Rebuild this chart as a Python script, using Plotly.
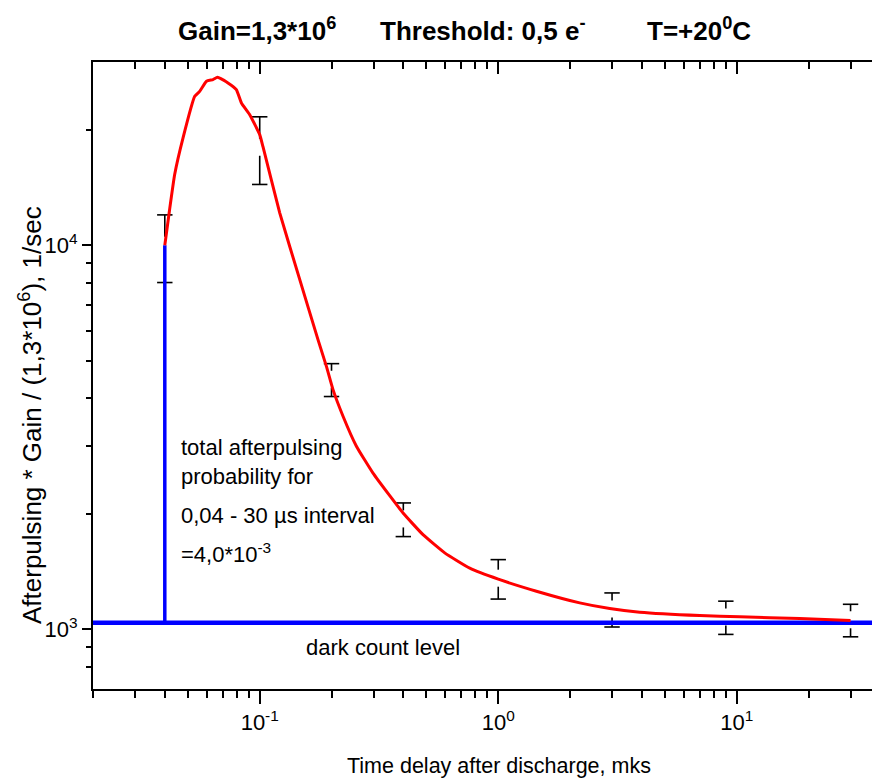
import math
import plotly.graph_objects as go

# ---------------- data ----------------
curve_x = [0.040, 0.0419, 0.0440, 0.0477, 0.0534, 0.0560, 0.0598, 0.0637, 0.0665, 0.0736,
           0.0798, 0.0838, 0.0908, 0.100, 0.1032, 0.1213, 0.1472, 0.1755, 0.1904, 0.2029,
           0.2235, 0.2543, 0.2985, 0.3508, 0.399, 0.4837, 0.5965, 0.7595, 1.0, 1.446,
           2.196, 2.934, 3.92, 7.0, 10.3, 18.35, 30.0]
curve_y = [10000, 12390, 15280, 19040, 24420, 25160, 26730, 27000, 27370, 26460,
           25420, 23470, 21880, 19410, 18060, 12150, 8140, 5680, 4840, 4210,
           3590, 3000, 2553, 2230, 2010, 1765, 1583, 1444, 1352, 1258,
           1173, 1134, 1109, 1087, 1079, 1068, 1055]

eb_x = [0.04, 0.1, 0.2, 0.4, 1.0, 3.0, 9.0, 30.0]
eb_y = [10000, 18000, 4480, 1940, 1360, 1130, 1078, 1060]
eb_err = [2000, 3600, 440, 195, 160, 115, 107, 103]

dark_level = 1041
onset_x = 0.04
onset_y = 10000

x_major = [0.1, 1, 10]
x_major_text = ["10<sup>-1</sup>", "10<sup>0</sup>", "10<sup>1</sup>"]
x_minor = [0.02, 0.03, 0.04, 0.05, 0.06, 0.07, 0.08, 0.09,
           0.2, 0.3, 0.4, 0.5, 0.6, 0.7, 0.8, 0.9,
           2, 3, 4, 5, 6, 7, 8, 9, 20, 30]
y_major = [1000, 10000]
y_major_text = ["10<sup>3</sup>", "10<sup>4</sup>"]
y_minor = [800, 900, 2000, 3000, 4000, 5000, 6000, 7000, 8000, 9000, 20000]

x_range = [0.02, 36.9]
y_range = [700, 30000]

# ---------------- style ----------------
FN = "Liberation Sans, Arial, sans-serif"
W_FIG, H_FIG = 872, 781
L, R, T, B = 93, 0, 62, 92
PW = W_FIG - L - R
PH = H_FIG - T - B
GAP = 10 ** (8.5 / 384.0)


def px(x):
    return (x - L) / PW


def py(y):
    return (H_FIG - B - y) / PH


fig = go.Figure()

# error bars (segments with a gap at the centre) + caps
seg_x, seg_y = [], []
for x, y, e in zip(eb_x, eb_y, eb_err):
    seg_x += [x, x, None, x, x, None]
    seg_y += [y + e, y * GAP, None, y / GAP, y - e, None]
fig.add_trace(go.Scatter(x=seg_x, y=seg_y, mode="lines",
                         line=dict(color="black", width=1.6),
                         hoverinfo="skip", showlegend=False))
cap_x = eb_x + eb_x
cap_y = [y + e for y, e in zip(eb_y, eb_err)] + [y - e for y, e in zip(eb_y, eb_err)]
fig.add_trace(go.Scatter(x=cap_x, y=cap_y, mode="markers",
                         marker=dict(symbol="line-ew", size=11,
                                     line=dict(color="black", width=1.6)),
                         hoverinfo="skip", showlegend=False))

# dark count level and onset (blue)
fig.add_trace(go.Scatter(x=[x_range[0], 60], y=[dark_level, dark_level], mode="lines",
                         line=dict(color="#0000ff", width=4.5),
                         hoverinfo="skip", showlegend=False))
fig.add_trace(go.Scatter(x=[onset_x, onset_x], y=[dark_level, onset_y], mode="lines",
                         line=dict(color="#0000ff", width=3.5),
                         hoverinfo="skip", showlegend=False))

# afterpulsing curve (red)
fig.add_trace(go.Scatter(x=curve_x, y=curve_y, mode="lines",
                         line=dict(color="#ff0000", width=3, shape="spline", smoothing=0.4),
                         hoverinfo="skip", showlegend=False))

# invisible trace for the top axis
fig.add_trace(go.Scatter(x=curve_x, y=curve_y, mode="lines", xaxis="x2",
                         line=dict(width=0), opacity=0,
                         hoverinfo="skip", showlegend=False))

lx = [math.log10(v) for v in x_range]
ly = [math.log10(v) for v in y_range]

axis_common = dict(type="log", showline=True, linewidth=2, linecolor="black",
                   showgrid=False, zeroline=False, tickcolor="black", tickwidth=1.5)

fig.update_layout(
    width=W_FIG, height=H_FIG,
    margin=dict(l=L, r=R, t=T, b=B),
    paper_bgcolor="white", plot_bgcolor="white",
    showlegend=False,
    xaxis=dict(**axis_common, range=lx, ticks="outside", ticklen=13,
               tickmode="array", tickvals=x_major, ticktext=x_major_text,
               tickfont=dict(family=FN, size=22, color="black"),
               minor=dict(tickmode="array", tickvals=x_minor, ticks="outside",
                          ticklen=7, tickwidth=1.5, tickcolor="black", showgrid=False)),
    xaxis2=dict(**axis_common, range=lx, overlaying="x", side="top", anchor="y",
                ticks="inside", ticklen=12, tickmode="array", tickvals=x_major,
                showticklabels=False,
                minor=dict(tickmode="array", tickvals=x_minor, ticks="inside",
                           ticklen=7, tickwidth=1.5, tickcolor="black", showgrid=False)),
    yaxis=dict(**axis_common, range=ly, ticks="outside", ticklen=9,
               tickmode="array", tickvals=y_major, ticktext=y_major_text,
               tickfont=dict(family=FN, size=22, color="black"),
               minor=dict(tickmode="array", tickvals=y_minor, ticks="outside",
                          ticklen=5, tickwidth=1.5, tickcolor="black", showgrid=False)),
)

ann = []


def add_text(text, x, y, size, family=FN, xanchor="left", yanchor="middle", angle=0, bold=False):
    if bold:
        text = "<b>" + text + "</b>"
    ann.append(dict(text=text, x=px(x), y=py(y), xref="paper", yref="paper",
                    xanchor=xanchor, yanchor=yanchor, textangle=angle, showarrow=False,
                    font=dict(family=family, size=size, color="black")))


# title pieces
add_text("Gain=1,3*10<sup>6</sup>", 176, 29, 26, bold=True)
add_text("Threshold: 0,5 e<sup>-</sup>", 378, 29, 26, bold=True)
add_text("T=+20<sup>0</sup>C", 645, 29, 26, bold=True)

# axis titles
add_text("Time delay after discharge, mks", 498.5, 766, 21.5, xanchor="center")
add_text("Afterpulsing * Gain / (1,3*10<sup>6</sup>), 1/sec", 30, 415, 26,
         xanchor="center", angle=-90)

# in-plot notes
add_text("total afterpulsing", 179, 447, 22)
add_text("probability for", 179, 476, 22)
add_text("0,04 - 30 \u00b5s interval", 179, 515, 22)
add_text("=4,0*10<sup>-3</sup>", 179, 553, 22)
add_text("dark count level", 382.5, 647, 22, xanchor="center")

fig.update_layout(annotations=ann)

fig.write_html("out.html")
